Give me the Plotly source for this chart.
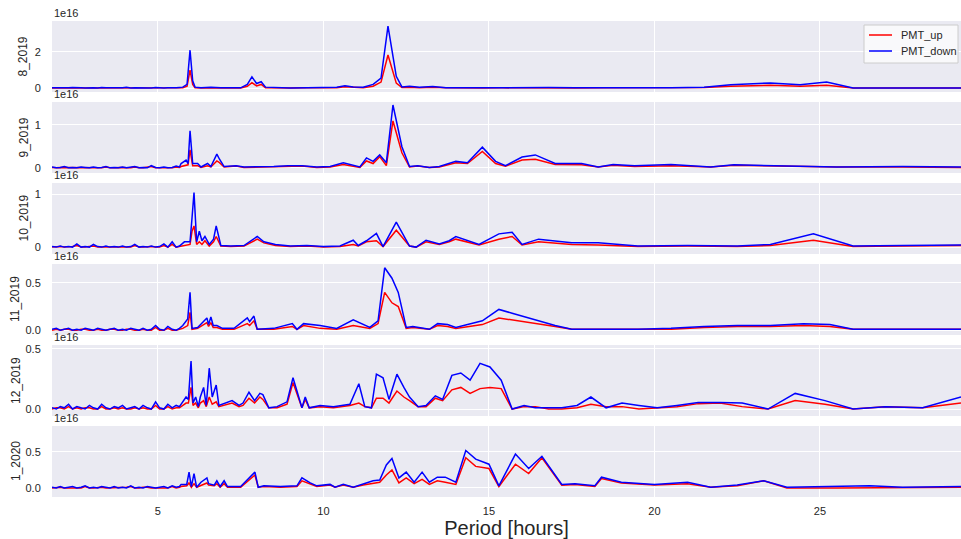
import plotly.graph_objects as go

# ---------------- data (values in units of 1e16) ----------------
months = ["8_2019", "9_2019", "10_2019", "11_2019", "12_2019", "1_2020"]
series_names = ["PMT_up", "PMT_down"]

# short-period (noisy) part, common period grid
noise_x = [1.8, 1.93, 2.05, 2.17, 2.3, 2.42, 2.55, 2.68, 2.8, 2.93, 3.05, 3.18, 3.3, 3.43, 3.55, 3.68,
           3.8, 3.93, 4.05, 4.18, 4.3, 4.43, 4.55, 4.68, 4.8, 4.93, 5.05, 5.18, 5.3, 5.43, 5.55, 5.65]

n1_up = [0.0, 0.01, 0.0, 0.01, 0.0, 0.01, 0.0, 0.0, 0.01, 0.0, 0.0, 0.01, 0.01, 0.0, 0.0, 0.01, 0.0, 0.0, 0.02, 0.0, 0.0, 0.01, 0.0, 0.0, 0.01, 0.01, 0.0, 0.0, 0.01, 0.0, 0.0, 0.01]
n1_down = [0.01, 0.0, 0.02, 0.0, 0.01, 0.03, 0.0, 0.01, 0.0, 0.02, 0.01, 0.0, 0.03, 0.01, 0.0, 0.02, 0.0, 0.01, 0.04, 0.0, 0.01, 0.0, 0.02, 0.01, 0.0, 0.03, 0.01, 0.0, 0.02, 0.0, 0.01, 0.03]
n2_up = [0.01, 0.0, 0.01, 0.01, 0.0, 0.0, 0.01, 0.01, 0.0, 0.0, 0.01, 0.0, 0.0, 0.02, 0.0, 0.0, 0.01, 0.01, 0.0, 0.0, 0.02, 0.0, 0.0, 0.01, 0.03, 0.0, 0.0, 0.01, 0.0, 0.0, 0.02, 0.01]
n2_down = [0.02, 0.0, 0.01, 0.03, 0.0, 0.01, 0.0, 0.02, 0.01, 0.0, 0.02, 0.0, 0.01, 0.03, 0.0, 0.01, 0.0, 0.02, 0.0, 0.01, 0.03, 0.0, 0.01, 0.0, 0.05, 0.01, 0.0, 0.02, 0.0, 0.01, 0.04, 0.02]
n3_up = [0.0, 0.01, 0.01, 0.0, 0.0, 0.01, 0.03, 0.0, 0.0, 0.01, 0.02, 0.0, 0.0, 0.01, 0.0, 0.0, 0.01, 0.01, 0.0, 0.0, 0.03, 0.0, 0.0, 0.01, 0.01, 0.0, 0.0, 0.03, 0.0, 0.05, 0.0, 0.01]
n3_down = [0.01, 0.0, 0.02, 0.0, 0.01, 0.0, 0.06, 0.0, 0.01, 0.0, 0.05, 0.01, 0.0, 0.02, 0.0, 0.01, 0.0, 0.02, 0.0, 0.01, 0.05, 0.0, 0.01, 0.0, 0.02, 0.0, 0.01, 0.06, 0.0, 0.1, 0.0, 0.02]
n4_up = [0.0, 0.01, 0.0, 0.01, 0.01, 0.0, 0.0, 0.01, 0.01, 0.0, 0.0, 0.01, 0.0, 0.0, 0.01, 0.01, 0.0, 0.0, 0.01, 0.01, 0.0, 0.0, 0.01, 0.0, 0.0, 0.03, 0.0, 0.0, 0.02, 0.0, 0.0, 0.01]
n4_down = [0.01, 0.02, 0.0, 0.01, 0.02, 0.0, 0.01, 0.0, 0.02, 0.01, 0.0, 0.02, 0.01, 0.0, 0.01, 0.02, 0.0, 0.01, 0.0, 0.02, 0.01, 0.0, 0.02, 0.0, 0.01, 0.05, 0.01, 0.0, 0.04, 0.01, 0.0, 0.02]
n5_up = [0.0, 0.01, 0.01, 0.0, 0.02, 0.0, 0.01, 0.0, 0.01, 0.01, 0.0, 0.0, 0.02, 0.0, 0.0, 0.01, 0.0, 0.01, 0.0, 0.0, 0.01, 0.0, 0.01, 0.0, 0.0, 0.03, 0.0, 0.0, 0.02, 0.0, 0.01, 0.01]
n5_down = [0.01, 0.0, 0.02, 0.01, 0.04, 0.0, 0.02, 0.01, 0.0, 0.03, 0.01, 0.0, 0.04, 0.01, 0.0, 0.02, 0.01, 0.03, 0.0, 0.01, 0.02, 0.0, 0.03, 0.01, 0.0, 0.06, 0.01, 0.0, 0.04, 0.01, 0.03, 0.02]
n6_up = [0.0, 0.01, 0.01, 0.0, 0.0, 0.01, 0.0, 0.0, 0.02, 0.0, 0.0, 0.01, 0.01, 0.0, 0.0, 0.01, 0.0, 0.0, 0.01, 0.02, 0.0, 0.0, 0.01, 0.01, 0.0, 0.0, 0.0, 0.01, 0.0, 0.02, 0.0, 0.01]
n6_down = [0.01, 0.0, 0.02, 0.0, 0.01, 0.02, 0.0, 0.01, 0.03, 0.0, 0.01, 0.0, 0.02, 0.01, 0.0, 0.02, 0.0, 0.01, 0.0, 0.03, 0.0, 0.01, 0.0, 0.02, 0.01, 0.0, 0.01, 0.02, 0.0, 0.03, 0.01, 0.02]

# longer periods
p1_x = [5.75, 5.88, 5.97, 6.05, 6.12, 6.3, 6.6, 6.9, 7.2, 7.5, 7.7, 7.84, 7.98, 8.12, 8.25, 8.6, 9.0, 9.5, 10.0, 10.4, 10.65, 10.9, 11.2, 11.5, 11.74, 11.95, 12.2, 12.37, 12.6, 12.9, 13.3, 13.7, 14.2, 14.8, 15.4, 16.0, 16.8, 17.6, 18.5, 19.5, 20.5, 21.5, 22.3, 23.5, 24.4, 25.2, 26.0, 27.3, 28.5, 29.26]
p1_up = [0.02, 0.1, 1.0, 0.2, 0.02, 0.0, 0.01, 0.0, 0.01, 0.0, 0.1, 0.3, 0.12, 0.2, 0.02, 0.0, 0.0, 0.01, 0.0, 0.02, 0.07, 0.03, 0.02, 0.1, 0.33, 1.83, 0.27, 0.03, 0.05, 0.02, 0.05, 0.02, 0.0, 0.0, 0.01, 0.0, 0.02, 0.0, 0.01, 0.02, 0.0, 0.03, 0.1, 0.15, 0.1, 0.15, 0.0, 0.0, 0.0, 0.0]
p1_down = [0.05, 0.2, 2.1, 0.4, 0.05, 0.02, 0.05, 0.01, 0.02, 0.01, 0.2, 0.62, 0.25, 0.35, 0.05, 0.01, 0.0, 0.01, 0.01, 0.05, 0.12, 0.06, 0.05, 0.2, 0.55, 3.44, 0.65, 0.06, 0.1, 0.05, 0.08, 0.02, 0.01, 0.02, 0.0, 0.01, 0.03, 0.01, 0.0, 0.03, 0.01, 0.05, 0.18, 0.28, 0.18, 0.33, 0.0, 0.0, 0.0, 0.0]

p2_x = [5.7, 5.85, 5.91, 5.97, 6.05, 6.2, 6.3, 6.5, 6.6, 6.78, 6.86, 7.0, 7.36, 7.6, 8.0, 8.5, 8.93, 9.35, 9.8, 10.2, 10.6, 10.9, 11.1, 11.3, 11.5, 11.7, 11.9, 12.1, 12.37, 12.6, 12.85, 13.2, 13.5, 14.0, 14.35, 14.8, 15.2, 15.5, 16.0, 16.4, 17.0, 17.8, 18.3, 18.75, 19.4, 20.5, 21.7, 22.4, 23.8, 25.5, 27.5, 29.26]
p2_up = [0.03, 0.05, 0.07, 0.42, 0.05, 0.05, 0.01, 0.05, 0.02, 0.16, 0.12, 0.02, 0.04, 0.01, 0.02, 0.02, 0.04, 0.04, 0.01, 0.02, 0.08, 0.04, 0.01, 0.16, 0.1, 0.26, 0.05, 1.09, 0.35, 0.02, 0.04, 0.01, 0.02, 0.12, 0.1, 0.38, 0.1, 0.04, 0.18, 0.2, 0.08, 0.07, 0.02, 0.06, 0.03, 0.05, 0.02, 0.06, 0.04, 0.02, 0.02, 0.01]
p2_down = [0.1, 0.18, 0.1, 0.86, 0.1, 0.1, 0.02, 0.1, 0.03, 0.32, 0.2, 0.03, 0.05, 0.02, 0.02, 0.03, 0.05, 0.05, 0.02, 0.03, 0.12, 0.06, 0.02, 0.23, 0.15, 0.3, 0.12, 1.46, 0.49, 0.03, 0.05, 0.01, 0.03, 0.15, 0.12, 0.48, 0.15, 0.05, 0.25, 0.3, 0.1, 0.1, 0.02, 0.08, 0.05, 0.08, 0.02, 0.07, 0.05, 0.02, 0.03, 0.02]

p3_x = [5.8, 5.97, 6.03, 6.09, 6.17, 6.25, 6.33, 6.42, 6.55, 6.68, 6.76, 6.82, 6.9, 7.2, 7.6, 8.0, 8.2, 8.55, 9.0, 9.5, 10.0, 10.5, 10.9, 11.05, 11.3, 11.6, 11.8, 12.2, 12.6, 12.8, 13.1, 13.5, 13.8, 14.0, 14.7, 15.3, 15.7, 16.0, 16.5, 17.5, 18.3, 19.5, 21.0, 22.5, 23.5, 24.8, 26.0, 27.5, 29.26]
p3_up = [0.03, 0.05, 0.3, 0.4, 0.05, 0.1, 0.05, 0.12, 0.02, 0.1, 0.2, 0.12, 0.02, 0.01, 0.02, 0.15, 0.08, 0.03, 0.01, 0.02, 0.0, 0.01, 0.05, 0.02, 0.1, 0.12, 0.01, 0.32, 0.02, 0.0, 0.1, 0.05, 0.1, 0.15, 0.04, 0.15, 0.2, 0.04, 0.1, 0.05, 0.04, 0.01, 0.02, 0.01, 0.03, 0.13, 0.01, 0.02, 0.03]
p3_down = [0.1, 0.1, 0.55, 1.03, 0.1, 0.3, 0.12, 0.2, 0.05, 0.15, 0.4, 0.25, 0.03, 0.02, 0.03, 0.2, 0.1, 0.05, 0.02, 0.03, 0.01, 0.02, 0.13, 0.03, 0.12, 0.26, 0.01, 0.47, 0.02, 0.0, 0.13, 0.06, 0.12, 0.2, 0.05, 0.25, 0.28, 0.05, 0.15, 0.08, 0.08, 0.02, 0.03, 0.02, 0.05, 0.25, 0.02, 0.03, 0.04]

p4_x = [5.75, 5.9, 5.97, 6.03, 6.2, 6.48, 6.53, 6.6, 6.67, 6.78, 6.95, 7.3, 7.7, 7.77, 7.9, 8.0, 8.5, 9.06, 9.2, 9.4, 9.9, 10.4, 10.9, 11.4, 11.65, 11.85, 12.07, 12.26, 12.5, 12.7, 13.2, 13.45, 13.75, 14.0, 14.8, 15.3, 15.7, 16.3, 17.0, 17.5, 18.5, 19.5, 20.5, 21.5, 22.5, 23.5, 24.5, 25.3, 26.0, 27.5, 29.26]
p4_up = [0.02, 0.05, 0.19, 0.01, 0.02, 0.08, 0.04, 0.08, 0.03, 0.03, 0.01, 0.01, 0.07, 0.05, 0.1, 0.01, 0.01, 0.04, 0.01, 0.05, 0.02, 0.01, 0.05, 0.02, 0.07, 0.4, 0.29, 0.25, 0.02, 0.03, 0.01, 0.05, 0.04, 0.02, 0.06, 0.13, 0.11, 0.08, 0.04, 0.01, 0.01, 0.01, 0.01, 0.03, 0.04, 0.04, 0.05, 0.04, 0.01, 0.01, 0.01]
p4_down = [0.05, 0.12, 0.4, 0.02, 0.03, 0.13, 0.06, 0.14, 0.05, 0.05, 0.02, 0.02, 0.13, 0.09, 0.15, 0.01, 0.02, 0.07, 0.01, 0.07, 0.05, 0.02, 0.11, 0.03, 0.1, 0.66, 0.55, 0.4, 0.03, 0.04, 0.01, 0.07, 0.06, 0.03, 0.1, 0.22, 0.18, 0.12, 0.05, 0.01, 0.01, 0.01, 0.02, 0.04, 0.05, 0.05, 0.07, 0.06, 0.01, 0.01, 0.01]

p5_x = [5.85, 5.92, 6.0, 6.06, 6.14, 6.22, 6.28, 6.38, 6.46, 6.55, 6.64, 6.76, 6.84, 7.24, 7.45, 7.57, 7.75, 7.92, 8.08, 8.17, 8.35, 8.6, 8.9, 9.08, 9.35, 9.45, 9.57, 9.9, 10.3, 10.8, 11.07, 11.25, 11.45, 11.6, 11.8, 11.98, 12.22, 12.43, 12.6, 12.86, 13.1, 13.38, 13.6, 13.88, 14.15, 14.43, 14.73, 15.03, 15.37, 15.7, 16.06, 16.4, 16.8, 17.2, 17.66, 18.08, 18.54, 19.02, 19.53, 20.08, 20.68, 21.32, 21.98, 22.65, 23.43, 24.25, 25.15, 26.0, 26.97, 28.1, 29.26]
p5_up = [0.05, 0.05, 0.18, 0.03, 0.05, 0.01, 0.05, 0.07, 0.02, 0.1, 0.04, 0.06, 0.02, 0.05, 0.02, 0.03, 0.09, 0.05, 0.1, 0.08, 0.01, 0.01, 0.04, 0.22, 0.01, 0.08, 0.01, 0.02, 0.01, 0.03, 0.05, 0.02, 0.01, 0.09, 0.09, 0.05, 0.15, 0.1, 0.07, 0.02, 0.02, 0.09, 0.07, 0.16, 0.18, 0.13, 0.17, 0.18, 0.17, 0.0, 0.02, 0.02, 0.0, 0.0, 0.01, 0.04, 0.02, 0.02, 0.0, 0.01, 0.02, 0.045, 0.05, 0.02, 0.0, 0.07, 0.04, 0.0, 0.02, 0.01, 0.05]
p5_down = [0.1, 0.08, 0.4, 0.05, 0.1, 0.02, 0.1, 0.18, 0.03, 0.34, 0.1, 0.2, 0.03, 0.07, 0.03, 0.05, 0.14, 0.07, 0.13, 0.12, 0.01, 0.02, 0.06, 0.26, 0.01, 0.1, 0.01, 0.03, 0.02, 0.04, 0.21, 0.02, 0.01, 0.29, 0.26, 0.08, 0.29, 0.18, 0.1, 0.02, 0.03, 0.11, 0.08, 0.28, 0.3, 0.24, 0.38, 0.35, 0.24, 0.0, 0.03, 0.01, 0.01, 0.01, 0.03, 0.1, 0.01, 0.05, 0.03, 0.01, 0.03, 0.055, 0.055, 0.05, 0.0, 0.13, 0.07, 0.0, 0.02, 0.01, 0.1]

p6_x = [5.7, 5.87, 5.94, 6.01, 6.09, 6.17, 6.3, 6.48, 6.53, 6.7, 6.78, 6.88, 7.0, 7.1, 7.5, 7.93, 8.03, 8.2, 8.7, 9.2, 9.35, 9.6, 9.8, 10.2, 10.35, 10.6, 10.9, 11.2, 11.5, 11.7, 11.9, 12.07, 12.28, 12.5, 12.74, 12.98, 13.2, 13.44, 13.68, 14.0, 14.3, 14.6, 15.0, 15.3, 15.8, 16.2, 16.6, 17.2, 17.6, 18.2, 18.4, 19.0, 20.0, 21.0, 21.7, 22.5, 23.3, 24.0, 25.5, 26.5, 27.5, 29.26]
p6_up = [0.02, 0.03, 0.07, 0.01, 0.06, 0.01, 0.04, 0.07, 0.04, 0.03, 0.06, 0.01, 0.06, 0.01, 0.01, 0.18, 0.01, 0.02, 0.01, 0.02, 0.1, 0.05, 0.02, 0.04, 0.01, 0.04, 0.01, 0.04, 0.07, 0.08, 0.18, 0.25, 0.07, 0.14, 0.06, 0.12, 0.05, 0.1, 0.08, 0.05, 0.42, 0.3, 0.27, 0.02, 0.33, 0.2, 0.42, 0.04, 0.05, 0.02, 0.13, 0.07, 0.04, 0.06, 0.01, 0.03, 0.1, 0.0, 0.0, 0.0, 0.0, 0.01]
p6_down = [0.05, 0.05, 0.22, 0.02, 0.2, 0.01, 0.08, 0.14, 0.06, 0.04, 0.1, 0.02, 0.1, 0.02, 0.02, 0.22, 0.01, 0.03, 0.02, 0.03, 0.14, 0.07, 0.03, 0.05, 0.01, 0.05, 0.01, 0.06, 0.1, 0.11, 0.32, 0.41, 0.14, 0.22, 0.08, 0.22, 0.08, 0.15, 0.15, 0.08, 0.52, 0.4, 0.33, 0.03, 0.47, 0.27, 0.44, 0.05, 0.06, 0.03, 0.15, 0.08, 0.05, 0.08, 0.01, 0.04, 0.1, 0.01, 0.02, 0.03, 0.01, 0.02]

xs = [p1_x, p2_x, p3_x, p4_x, p5_x, p6_x]
ups = [n1_up + p1_up, n2_up + p2_up, n3_up + p3_up, n4_up + p4_up, n5_up + p5_up, n6_up + p6_up]
downs = [n1_down + p1_down, n2_down + p2_down, n3_down + p3_down, n4_down + p4_down,
         n5_down + p5_down, n6_down + p6_down]

y_ranges = [[-0.22, 3.72], [-0.12, 1.53], [-0.13, 1.21], [-0.05, 0.70], [-0.058, 0.533], [-0.125, 0.86]]
y_ticks = [[0, 2], [0, 1], [0, 1], [0.0, 0.5], [0.0, 0.5], [0.0, 0.5]]
y_fmt = ["d", "d", "d", ".1f", ".1f", ".1f"]
x_ticks = [5, 10, 15, 20, 25]
x_range = [1.8, 29.26]

# ---------------- layout geometry ----------------
W, H = 961, 539
L, R, T, B = 52, 0, 21, 42
plot_w = W - L - R
plot_h = H - T - B
panel_h, gap = 71, 10
label_cx = [23, 23, 23, 15.5, 15.5, 15.5]

FONT = "Liberation Sans, Arial, sans-serif"
TXT = "#262626"
BG = "#EAEAF2"


def px_x(p):
    return (p - L) / plot_w


def px_y(p):
    return (H - B - p) / plot_h


fig = go.Figure()
layout = dict(
    width=W, height=H,
    margin=dict(l=L, r=R, t=T, b=B),
    paper_bgcolor="white", plot_bgcolor=BG,
    font=dict(family=FONT, color=TXT, size=11),
    showlegend=False,
)
annotations = []
shapes = []
for i in range(6):
    top_px = i * (panel_h + gap)
    d1 = 1 - top_px / plot_h
    d0 = 1 - (top_px + panel_h) / plot_h
    ax = "" if i == 0 else str(i + 1)
    xa = dict(domain=[0, 1], range=x_range, tickvals=x_ticks, showgrid=True, gridcolor="white",
              gridwidth=1, zeroline=False, showline=False, ticks="outside", ticklen=4,
              tickcolor="rgba(0,0,0,0)",
              showticklabels=(i == 5), tickfont=dict(size=11, color=TXT), anchor="y" + ax)
    if i > 0:
        xa["matches"] = "x"
    if i == 5:
        xa["title"] = dict(text="Period [hours]", font=dict(size=20, color=TXT), standoff=6)
    layout["xaxis" + ax] = xa
    layout["yaxis" + ax] = dict(domain=[d0, d1], range=y_ranges[i], tickvals=y_ticks[i],
                                tickformat=y_fmt[i], showgrid=True, gridcolor="white", gridwidth=1,
                                zeroline=False, showline=False, ticks="outside", ticklen=8,
                                tickcolor="rgba(0,0,0,0)",
                                tickfont=dict(size=11, color=TXT), anchor="x" + ax)
    fig.add_trace(go.Scatter(x=noise_x + xs[i], y=ups[i], mode="lines", name=series_names[0],
                             line=dict(color="red", width=1.5),
                             xaxis="x" + ax, yaxis="y" + ax))
    fig.add_trace(go.Scatter(x=noise_x + xs[i], y=downs[i], mode="lines", name=series_names[1],
                             line=dict(color="blue", width=1.5),
                             xaxis="x" + ax, yaxis="y" + ax))
    annotations.append(dict(text="1e16", xref="paper", yref="paper", x=0, y=d1,
                            xanchor="left", yanchor="bottom", showarrow=False,
                            font=dict(size=11, color=TXT), yshift=0))
    annotations.append(dict(text=months[i], xref="paper", yref="paper",
                            x=px_x(label_cx[i]), y=(d0 + d1) / 2,
                            xanchor="center", yanchor="middle", textangle=-90, showarrow=False,
                            font=dict(size=12, color=TXT)))

# legend drawn in panel 1 (top right)
shapes.append(dict(type="rect", xref="paper", yref="paper",
                   x0=px_x(864), x1=px_x(958), y0=px_y(63), y1=px_y(25),
                   fillcolor="rgba(255,255,255,0.7)", line=dict(color="#CCCCCC", width=1)))
for k, (cy, col) in enumerate([(35, "red"), (51, "blue")]):
    shapes.append(dict(type="line", xref="paper", yref="paper",
                       x0=px_x(869), x1=px_x(892), y0=px_y(cy), y1=px_y(cy),
                       line=dict(color=col, width=1.5)))
    annotations.append(dict(text=series_names[k], xref="paper", yref="paper",
                            x=px_x(899), y=px_y(cy), xanchor="left", yanchor="middle",
                            showarrow=False, font=dict(size=11, color=TXT)))

layout["annotations"] = annotations
layout["shapes"] = shapes
fig.update_layout(**layout)
fig.write_html("out.html")
